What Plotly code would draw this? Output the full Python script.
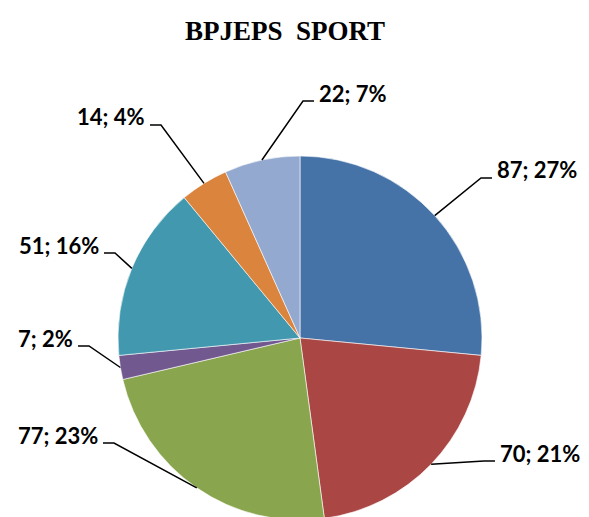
import math
import plotly.graph_objects as go

# ---- data ----
categories = ["Catégorie 1", "Catégorie 2", "Catégorie 3", "Catégorie 4",
              "Catégorie 5", "Catégorie 6", "Catégorie 7"]
values = [87, 70, 77, 7, 51, 14, 22]
title_text = "BPJEPS  SPORT"

# ---- styles / layout ----
colors = ["#4572A7", "#AA4643", "#89A54E", "#71588F", "#4198AF", "#DB843D", "#93A9CF"]
W, H = 589, 520
CX, CY, R = 300, 338, 182          # pie centre / radius in pixels (from top-left)
# label tip positions (px) and side on which the text sits
label_tips = [(492, 178, "r"), (495, 461, "r"), (103, 443, "l"), (78, 346, "l"),
              (104, 253, "l"), (150, 125, "l"), (314, 101, "r")]
ELBOW = 11
LABEL_FONT = dict(family="Lato, Open Sans, sans-serif", size=22, color="#000000")


def px(x):
    return x / W


def py(y):
    return 1 - y / H


total = sum(values)
fig = go.Figure(go.Pie(
    labels=categories, values=values, sort=False, direction="clockwise",
    rotation=0, textinfo="none", hoverinfo="label+value+percent",
    marker=dict(colors=colors, line=dict(color="#FFFFFF", width=0.6)),
    domain=dict(x=[px(CX - R), px(CX + R)], y=[py(CY + R), py(CY - R)]),
    showlegend=False,
))

shapes, annotations = [], []
cum = 0
for v, (tx, ty, side) in zip(values, label_tips):
    mid = (cum + v / 2) / total * 2 * math.pi
    cum += v
    ex, ey = CX + R * math.sin(mid), CY - R * math.cos(mid)
    elx = tx - ELBOW if side == "r" else tx + ELBOW
    shapes.append(dict(
        type="path", xref="paper", yref="paper",
        path=f"M {px(ex)},{py(ey)} L {px(elx)},{py(ty)} L {px(tx)},{py(ty)}",
        line=dict(color="#000000", width=1.5)))
    pct = round(v / total * 100)
    annotations.append(dict(
        text=f"<b>{v}; {pct}%</b>", xref="paper", yref="paper",
        x=px(tx + 3) if side == "r" else px(tx - 3), y=py(ty - 8),
        xanchor="left" if side == "r" else "right", yanchor="middle",
        showarrow=False, font=LABEL_FONT))

annotations.append(dict(
    text=f"<b>{title_text}</b>", xref="paper", yref="paper", x=px(285), y=py(31),
    xanchor="center", yanchor="middle", showarrow=False,
    font=dict(family="Liberation Serif, serif", size=27, color="#000000")))

fig.update_layout(
    width=W, height=H, margin=dict(l=0, r=0, t=0, b=0),
    paper_bgcolor="#FFFFFF", plot_bgcolor="#FFFFFF",
    shapes=shapes, annotations=annotations,
)

fig.write_html("out.html", config={"displayModeBar": False},
               post_script="document.body.style.margin='0';document.body.style.overflow='hidden';")
